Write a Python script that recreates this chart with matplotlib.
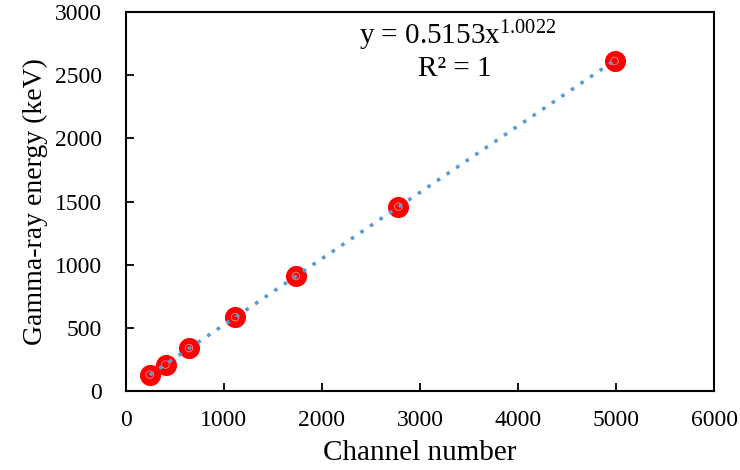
import numpy as np
import matplotlib
matplotlib.use("Agg")
import matplotlib.pyplot as plt

channels = [245, 405, 645, 1115, 1735, 2780, 4985]
energies = [130, 210, 340, 585, 911, 1460, 2614]
fit_a = 0.5153
fit_b = 1.0022
x_ticks = [0, 1000, 2000, 3000, 4000, 5000, 6000]
y_ticks = [0, 500, 1000, 1500, 2000, 2500, 3000]

plt.rcParams['font.family'] = ['Liberation Serif', 'DejaVu Serif']
plt.rcParams['mathtext.fontset'] = 'custom'
plt.rcParams['mathtext.rm'] = 'Liberation Serif'
plt.rcParams['mathtext.it'] = 'Liberation Serif'

fig = plt.figure(figsize=(7.4, 4.7), dpi=100)
ax = fig.add_axes([0.170, 0.168, 0.795, 0.806])

ax.scatter(channels, energies, s=230, color='#FF0000', zorder=3, linewidths=0)
ax.scatter(channels, energies, s=30, facecolors='none', edgecolors='#FF9090', linewidths=0.6, zorder=3)

xf = np.linspace(min(channels), max(channels), 200)
ax.plot(xf, fit_a * xf ** fit_b, linestyle=(0, (1, 2.2)), color='#5B9BD5', linewidth=2.6, zorder=4)

ax.set_xlim(0, 6000)
ax.set_ylim(0, 3000)
ax.set_xticks(x_ticks)
ax.set_yticks(y_ticks)
ax.tick_params(axis='both', direction='in', length=6, width=1.3, labelsize=17, colors='black')
ax.tick_params(axis='x', pad=14)
ax.tick_params(axis='y', pad=17)
for s in ax.spines.values():
    s.set_linewidth(1.5)
    s.set_color('black')

ax.set_xlabel('Channel number', fontsize=21, labelpad=6)
ax.set_ylabel('Gamma-ray energy (keV)', fontsize=20, labelpad=5)

fig.text(0.619, 0.923, r'y = 0.5153x$^{\mathrm{1.0022}}$', fontsize=21, ha='center', va='center')
fig.text(0.615, 0.854, 'R² = 1', fontsize=21, ha='center', va='center')

fig.savefig('out.png', dpi=100)
